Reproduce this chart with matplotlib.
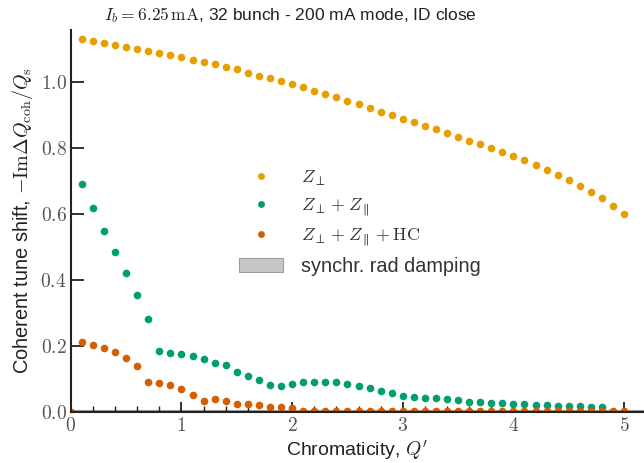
import numpy as np
import matplotlib
matplotlib.use('Agg')
import matplotlib.pyplot as plt
from matplotlib.ticker import MultipleLocator, FuncFormatter

plt.rcParams['mathtext.fontset'] = 'cm'
plt.rcParams['font.family'] = ['Liberation Sans', 'DejaVu Sans']

# chromaticity scan
Qp = np.round(np.arange(1, 51) * 0.1, 1)

# Z_perp only
z_perp = [1.130, 1.123, 1.119, 1.113, 1.106, 1.100, 1.094, 1.087, 1.081, 1.074,
          1.067, 1.060, 1.053, 1.045, 1.038, 1.028, 1.019, 1.011, 1.002, 0.993,
          0.984, 0.973, 0.963, 0.953, 0.942, 0.932, 0.921, 0.910, 0.899, 0.888,
          0.878, 0.867, 0.856, 0.845, 0.832, 0.822, 0.811, 0.799, 0.787, 0.775,
          0.762, 0.748, 0.733, 0.718, 0.702, 0.684, 0.666, 0.647, 0.623, 0.598]

# Z_perp + Z_par
z_perp_par = [0.690, 0.617, 0.548, 0.484, 0.419, 0.354, 0.281, 0.185, 0.178, 0.176,
              0.170, 0.159, 0.148, 0.142, 0.121, 0.109, 0.095, 0.081, 0.079, 0.083,
              0.090, 0.091, 0.090, 0.089, 0.085, 0.079, 0.073, 0.064, 0.056, 0.047,
              0.045, 0.042, 0.040, 0.038, 0.035, 0.029, 0.028, 0.026, 0.025, 0.024,
              0.022, 0.020, 0.019, 0.018, 0.017, 0.016, 0.015, 0.015, 0.0, 0.0]

# Z_perp + Z_par + harmonic cavity
z_hc = [0.212, 0.203, 0.194, 0.180, 0.164, 0.138, 0.090, 0.086, 0.082, 0.069,
        0.051, 0.033, 0.038, 0.032, 0.024, 0.022, 0.019, 0.015, 0.013, 0.011,
        0.002, 0.002, 0.001, 0.001, 0.001, 0.001, 0.001, 0.001, 0.001, 0.001,
        0.001, 0.001, 0.001, 0.001, 0.001, 0.001, 0.001, 0.001, 0.001, 0.001,
        0.001, 0.001, 0.001, 0.001, 0.001, 0.001, 0.001, 0.001, 0.001, 0.001]

rad_damping = 0.006

fig = plt.figure(figsize=(6.44, 4.63), dpi=100)
ax = fig.add_axes([0.110, 0.111, 0.890, 0.824])

ax.fill_between([-0.1, 5.5], 0, rad_damping, facecolor='0.78', edgecolor='0.62',
                lw=0.8, label='synchr. rad damping')
ax.plot(Qp, z_perp, 'o', color='#E69F00', ms=5.5, mew=0, label=r'$Z_\perp$')
ax.plot(Qp, z_perp_par, 'o', color='#009E73', ms=5.5, mew=0,
        label=r'$Z_\perp + Z_\parallel$')
ax.plot(np.r_[0.0, Qp], [0.0] + z_hc, 'o', color='#D55E00', ms=5.5, mew=0,
        label=r'$Z_\perp + Z_\parallel + \mathrm{HC}$')

ax.set_xlim(0, 5.18)
ax.set_ylim(0, 1.157)

for s in ['top', 'right']:
    ax.spines[s].set_visible(False)
for s in ['left', 'bottom']:
    ax.spines[s].set_linewidth(1.5)
    ax.spines[s].set_color('#222222')

ax.xaxis.set_major_locator(MultipleLocator(1))
ax.xaxis.set_minor_locator(MultipleLocator(0.2))
ax.yaxis.set_major_locator(MultipleLocator(0.2))
ax.xaxis.set_major_formatter(FuncFormatter(lambda v, p: r'$%d$' % round(v)))
ax.yaxis.set_major_formatter(FuncFormatter(lambda v, p: r'$%.1f$' % v))
ax.tick_params(axis='x', which='major', direction='in', length=7, width=1.3,
               color='#222222', labelsize=14, labelcolor='#555555', pad=4)
ax.tick_params(axis='x', which='minor', direction='in', length=4, width=1.0,
               color='#222222')
ax.tick_params(axis='y', which='major', direction='in', length=9, width=1.3,
               color='#222222', labelsize=14, labelcolor='#555555', pad=3)

ax.set_xlabel(r"Chromaticity, $Q'$", fontsize=14, color='#222222', labelpad=2)
ax.set_ylabel(r'Coherent tune shift, $-\mathrm{Im}\Delta Q_\mathrm{coh}/Q_\mathrm{s}$',
              fontsize=14.4, color='#222222', labelpad=4)
fig.text(0.451, 0.967, r'$I_b = 6.25\,\mathrm{mA}$, 32 bunch - 200 mA mode, ID close',
         ha='center', va='center', fontsize=12.5, color='#222222')

h, l = ax.get_legend_handles_labels()
order = [1, 2, 3, 0]
leg = ax.legend([h[i] for i in order], [l[i] for i in order], frameon=False,
                fontsize=14.3, loc='upper left', bbox_to_anchor=(0.263, 0.683),
                handlelength=2.2, labelspacing=0.42, handletextpad=0.9,
                markerscale=0.9)
for i, t in enumerate(leg.get_texts()):
    t.set_color('#333333')
    if i < 3:
        t.set_fontsize(13)

fig.savefig('out.png', dpi=100)
